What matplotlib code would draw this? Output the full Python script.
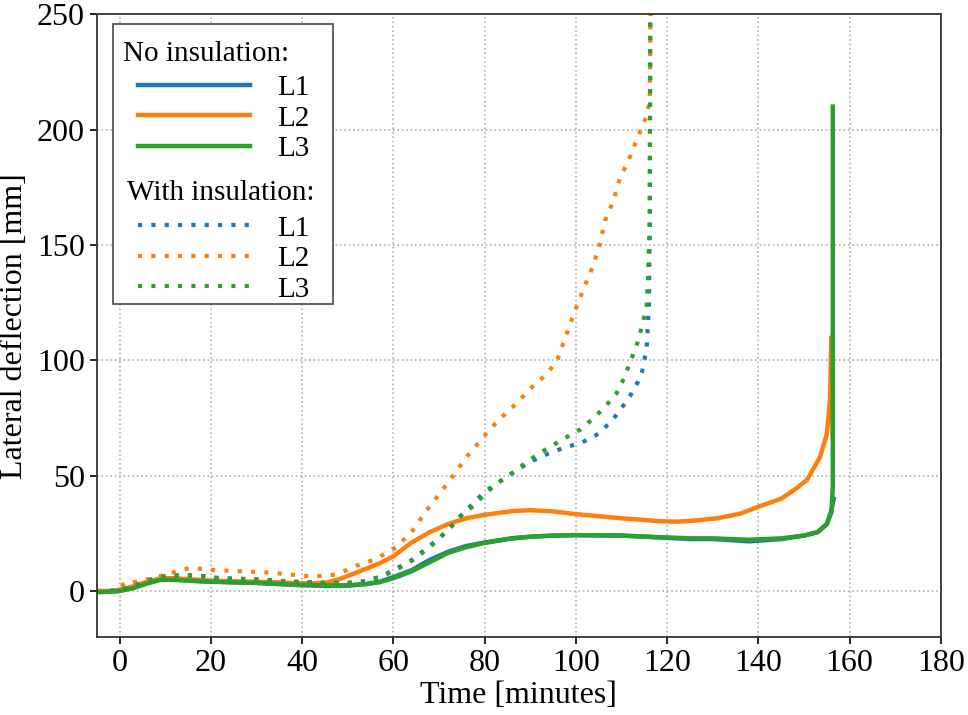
import numpy as np
import matplotlib
matplotlib.use('Agg')
import matplotlib.pyplot as plt
from matplotlib.lines import Line2D
from matplotlib.legend_handler import HandlerLine2D
from matplotlib.offsetbox import DrawingArea

plt.rcParams['font.family'] = ['Liberation Serif', 'DejaVu Serif']

# ---- data (time in minutes, deflection in mm) ----
t_l1 = [-5, -2, 0, 3, 6, 9, 12, 16, 20, 25, 30, 35, 40, 45, 50, 54, 57, 60, 64, 68,
        72, 76, 80, 86, 90, 95, 100, 110, 120, 125, 130, 138, 145, 150, 153, 155, 156, 156.5]
d_l1 = [-0.5, -0.3, 0, 1.5, 3.5, 5, 5, 4.5, 4, 3.8, 3.5, 3, 2.5, 2.2, 2.3, 3, 4, 6, 9, 13.5,
        17, 19.5, 21, 22.8, 23.5, 24, 24.2, 24, 23, 22.5, 22.5, 21.5, 22.5, 24, 25.5, 29, 35, 40]

t_l2 = [-5, -2, 0, 3, 6, 9, 12, 16, 20, 25, 30, 35, 40, 45, 48, 52, 57, 60, 64, 68, 72, 76,
        80, 86, 90, 95, 100, 110, 118, 122, 126, 131, 136, 140, 145, 148, 150.6, 153.5, 155,
        155.7, 156, 156.3]
d_l2 = [0, 0, 0.5, 2, 4, 5.5, 5.5, 5, 4.5, 4.2, 4, 3.7, 3.3, 3.5, 5, 8, 12, 15, 21, 25.5, 29,
        31.5, 33, 34.6, 35, 34.5, 33.3, 31.5, 30.3, 30, 30.5, 31.5, 33.5, 36.5, 40, 44, 48, 58,
        68, 83, 110, 67]

t_l3 = [-5, -2, 0, 3, 6, 9, 12, 16, 20, 25, 30, 35, 40, 45, 50, 54, 57, 60, 64, 68, 72, 76,
        80, 86, 90, 95, 100, 110, 120, 125, 130, 138, 145, 150, 153, 155, 156, 156.3, 156.3]
d_l3 = [-0.5, -0.3, 0, 1.2, 3.2, 4.8, 4.8, 4.3, 4, 3.7, 3.5, 3, 2.6, 2.4, 2.4, 3, 3.8, 5.5,
        8.5, 12.5, 16.5, 19, 20.8, 22.8, 23.5, 24, 24.2, 24, 23.2, 22.8, 22.8, 22.2, 22.8, 24,
        25.5, 29, 34, 45, 210]

ti_l1 = [-5, -2, 0, 3, 6, 10, 14, 18, 22, 26, 30, 36, 40, 45, 50, 53, 57, 60, 64, 68, 72, 75,
         78, 80, 83, 86, 90, 94, 98, 101, 105, 108, 111, 113, 114.5, 115.5, 116, 116.2, 116.3]
di_l1 = [-0.5, 0, 0.5, 2, 4.5, 6.5, 7, 6.5, 5.5, 5.3, 5, 4.2, 3.8, 3.5, 3.5, 4, 6, 9, 13.4,
         19.5, 26.4, 33, 39, 43, 47, 51, 56, 59.6, 62.5, 64, 68.2, 74, 82, 88, 95, 105, 124,
         160, 260]

ti_l2 = [-5, -2, 0, 1, 4, 8, 12.4, 15.4, 21, 27.8, 32.9, 38, 42.4, 46.8, 49.7, 52, 55.6, 57,
         60.7, 64.3, 67.3, 70.2, 73.1, 76, 80.4, 83, 86.2, 91, 93, 95.8, 97.6, 100.1, 102,
         103.8, 105.3, 106.4, 108.2, 109.6, 111.8, 113.7, 115.5, 116.2, 116.4]
di_l2 = [0, 0, 0.5, 3.5, 4, 6, 8.4, 10, 9, 8.4, 8, 7, 6.2, 7, 9, 11, 13.4, 14.8, 19, 26.4,
         35, 42.3, 50, 58, 68.3, 74, 79.8, 89.6, 93, 99.3, 109.4, 123, 132.5, 141, 151, 160.6,
         169, 178.6, 188, 197.4, 206, 212.6, 260]

ti_l3 = [-5, -2, 0, 3, 6, 10, 14, 18, 22, 26, 30, 36, 40, 45, 50, 53, 57, 60, 64, 68, 72, 75,
         78, 80, 83, 86, 90, 94.3, 98.7, 101, 103.8, 106, 108.9, 110.5, 111.8, 113.7, 115.5,
         115.8, 116.2, 116.3]
di_l3 = [-0.5, 0, 0.5, 2, 4.5, 6.3, 6.8, 6.3, 5.5, 5.2, 5, 4.2, 3.8, 3.5, 3.5, 4, 6, 8.5, 13,
         19, 26.4, 33, 37.5, 42, 47, 51, 57, 62.5, 67.5, 70, 74.8, 79, 85.6, 92, 98.6, 108.7,
         123, 135, 160, 260]

labels = ['L1', 'L2', 'L3']
headers = ['No insulation:', 'With insulation:']
colors = ['tab:blue', 'tab:orange', 'tab:green']
dots = (0, (1, 2.2))


class IndentHandler(HandlerLine2D):
    # shorten legend lines on the left so headers stick out
    def get_xdata(self, legend, xdescent, ydescent, width, height, fontsize):
        xdata, xmark = super().get_xdata(legend, xdescent, ydescent, width, height, fontsize)
        xdata = np.asarray(xdata, dtype=float)
        xdata[0] += 16.7
        return xdata, xmark


fig, ax = plt.subplots(figsize=(9.68, 7.15), dpi=100)
fig.subplots_adjust(left=0.100, right=0.972, bottom=0.109, top=0.980)

solid = []
for x, y, c, lab in zip([t_l1, t_l2, t_l3], [d_l1, d_l2, d_l3], colors, labels):
    ln, = ax.plot(x, y, color=c, lw=3.2, label=lab)
    solid.append(ln)
dotted = []
for x, y, c, lab in zip([ti_l1, ti_l2, ti_l3], [di_l1, di_l2, di_l3], colors, labels):
    ln, = ax.plot(x, y, color=c, lw=3, linestyle=dots, label=lab)
    dotted.append(ln)

ax.set_xlim(-5, 180)
ax.set_ylim(-20, 250)
ax.set_xticks(range(0, 181, 20))
ax.set_yticks(range(0, 251, 50))
ax.grid(True, linestyle=':', color='#b0b0b0', lw=1.2)
ax.set_axisbelow(True)
ax.tick_params(labelsize=23, width=1.2, length=5)
for s in ax.spines.values():
    s.set_linewidth(1.3)
    s.set_color('#333333')
ax.set_xlabel('Time [minutes]', fontsize=23, labelpad=2)
ax.set_ylabel('Lateral deflection [mm]', fontsize=23, labelpad=6)

blank = [Line2D([], [], linestyle='none') for _ in headers]
handles = [blank[0]] + solid + [blank[1]] + dotted
texts = [headers[0]] + labels + [headers[1]] + labels
leg = ax.legend(handles, texts, loc='upper left', bbox_to_anchor=(0.019, 0.984),
                fontsize=21, handlelength=4.63, handletextpad=0.95, labelspacing=0.14,
                borderpad=0.06, fancybox=False, edgecolor='#555555', framealpha=1,
                borderaxespad=0, handler_map={Line2D: IndentHandler()})
leg.get_frame().set_linewidth(1.3)

# header rows: no handle, own indent and extra vertical room
head_style = {headers[0]: (5.9, 25.4, 6.7, 0), headers[1]: (8.8, 24.2, 8.1, 12.3)}
for col in leg._legend_handle_box.get_children():
    for row in col.get_children():
        area, txt = row.get_children()[:2]
        if txt.get_text() in head_style:
            w, above, below, tail = head_style[txt.get_text()]
            row.sep = 0
            area.width = w
            area.ydescent = below
            area.height = above + below
            if tail:
                row._children.append(DrawingArea(tail, 0))

fig.savefig('out.png', dpi=100)
